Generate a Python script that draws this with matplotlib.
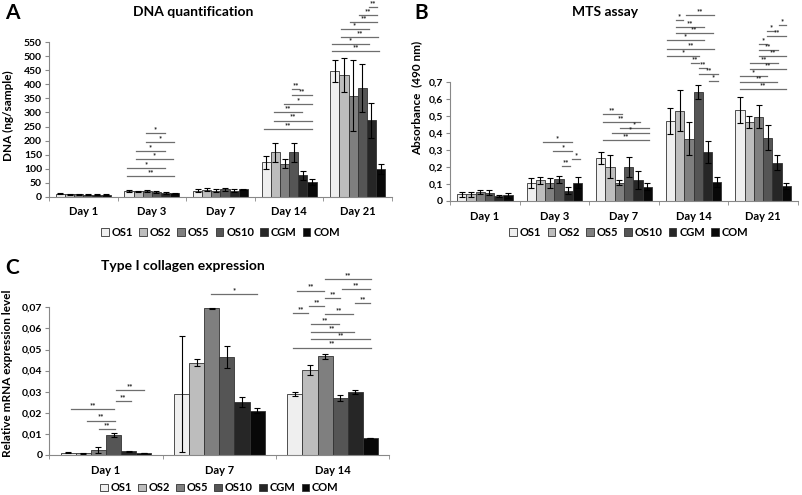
import matplotlib
matplotlib.use("Agg")
import matplotlib.pyplot as plt
from matplotlib.patches import Patch
from matplotlib.ticker import FuncFormatter

plt.rcParams['font.family'] = ['Lato', 'DejaVu Sans']
plt.rcParams['font.weight'] = 'bold'

groups = ['OS1', 'OS2', 'OS5', 'OS10', 'CGM', 'COM']
colors = ['#efefef', '#bdbdbd', '#7f7f7f', '#555555', '#262626', '#080808']

days_ab = ['Day 1', 'Day 3', 'Day 7', 'Day 14', 'Day 21']
days_c = ['Day 1', 'Day 7', 'Day 14']

# A - DNA (ng/sample), one row per day, one column per group
dna_mean = [[10, 9, 9, 7, 7, 7],
            [20, 19, 19, 17, 13, 12],
            [22, 25, 22, 27, 22, 26],
            [122, 158, 118, 158, 77, 52],
            [448, 433, 360, 388, 272, 99]]
dna_err = [[2, 2, 2, 1, 1, 1],
           [3, 3, 4, 3, 3, 2],
           [4, 5, 4, 5, 4, 3],
           [23, 34, 17, 34, 16, 12],
           [38, 60, 126, 85, 63, 17]]

# B - MTS absorbance (490 nm)
mts_mean = [[0.040, 0.040, 0.055, 0.048, 0.030, 0.033],
            [0.105, 0.122, 0.105, 0.128, 0.060, 0.108],
            [0.254, 0.201, 0.108, 0.200, 0.123, 0.084],
            [0.471, 0.530, 0.366, 0.641, 0.287, 0.113],
            [0.534, 0.465, 0.495, 0.372, 0.225, 0.088]]
mts_err = [[0.015, 0.015, 0.012, 0.015, 0.008, 0.015],
           [0.030, 0.020, 0.028, 0.020, 0.020, 0.030],
           [0.035, 0.068, 0.015, 0.060, 0.053, 0.020],
           [0.075, 0.120, 0.095, 0.040, 0.065, 0.030],
           [0.078, 0.035, 0.068, 0.075, 0.045, 0.018]]

# C - type I collagen relative mRNA expression
col_mean = [[0.0011, 0.0008, 0.0024, 0.0093, 0.0018, 0.0010],
            [0.0288, 0.0438, 0.0695, 0.0466, 0.0250, 0.0210],
            [0.0289, 0.0403, 0.0468, 0.0269, 0.0300, 0.0081]]
col_err = [[0.0002, 0.0002, 0.0015, 0.0010, 0.0002, 0.0001],
           [0.0276, 0.0015, 0.0003, 0.0052, 0.0023, 0.0011],
           [0.0008, 0.0022, 0.0013, 0.0013, 0.0009, 0.0001]]

# significance bars: (day index, from bar, to bar, height, label)
dna_sig = [(1, 1.9, 3.9, 226, '*'), (1, 1.9, 4.9, 196, '*'),
           (1, 0.8, 3.9, 163, '*'), (1, 0.8, 4.8, 133, '*'),
           (1, -0.2, 3.9, 103, '*'), (1, -0.2, 4.9, 74, '**'),
           (3, 2.85, 3.6, 383, '**'), (3, 2.85, 5.0, 362, '**'),
           (3, 1.9, 5.0, 330, '*'), (3, 0.8, 3.9, 301, '**'),
           (3, 0.8, 5.0, 271, '**'), (3, -0.2, 5.0, 240, '**'),
           (4, 3.7, 4.65, 674, '**'), (4, 2.65, 4.65, 648, '**'),
           (4, 1.65, 4.65, 622, '**'), (4, 0.65, 3.7, 597, '*'),
           (4, 0.65, 4.75, 570, '**'), (4, -0.35, 3.7, 543, '*'),
           (4, -0.35, 4.85, 519, '**')]
mts_sig = [(1, 1.3, 4.4, 0.344, '*'), (1, 2.4, 4.4, 0.295, '*'),
           (1, 4.4, 5.3, 0.248, '*'), (1, 3.3, 4.2, 0.205, '**'),
           (2, 0.2, 2.25, 0.510, '**'), (2, 0.2, 4.2, 0.465, '**'),
           (2, 2.1, 5.2, 0.426, '*'), (2, 1.2, 5.2, 0.397, '*'),
           (2, 0.2, 5.2, 0.358, '**'),
           (3, 1.7, 4.7, 1.093, '**'), (3, 0.55, 1.4, 1.062, '*'),
           (3, 0.55, 3.65, 1.022, '**'), (3, 0.55, 4.6, 0.984, '**'),
           (3, -0.35, 3.65, 0.944, '*'), (3, -0.35, 4.7, 0.893, '**'),
           (3, -0.35, 3.1, 0.852, '*'), (3, 2.2, 3.1, 0.808, '**'),
           (3, 3.1, 3.9, 0.778, '**'), (3, 3.1, 5.1, 0.745, '**'),
           (3, 4.2, 5.1, 0.704, '*'),
           (4, 4.15, 5.0, 1.032, '*'), (4, 2.95, 3.8, 0.999, '*'),
           (4, 2.95, 5.0, 0.968, '**'), (4, 2.05, 2.9, 0.919, '*'),
           (4, 2.05, 4.05, 0.886, '**'), (4, 2.05, 5.0, 0.850, '**'),
           (4, 1.1, 4.05, 0.811, '**'), (4, 1.1, 5.0, 0.772, '**'),
           (4, 0.0, 2.95, 0.735, '*'), (4, 0.0, 4.0, 0.696, '**'),
           (4, 0.0, 5.0, 0.657, '**')]
col_sig = [(0, 3.15, 5.0, 0.0308, '**'), (0, 3.15, 4.15, 0.0256, '**'),
           (0, 0.2, 3.05, 0.0219, '**'), (0, 1.25, 3.1, 0.0163, '**'),
           (0, 2.05, 3.1, 0.0122, '**'),
           (1, 1.95, 5.0, 0.0762, '*'),
           (2, 2.0, 5.05, 0.0833, '**'), (2, 3.1, 4.95, 0.0785, '**'),
           (2, 0.15, 1.95, 0.0779, '**'), (2, 2.0, 3.0, 0.0745, '**'),
           (2, 3.95, 5.0, 0.0719, '**'), (2, 0.95, 1.95, 0.0706, '**'),
           (2, -0.1, 0.9, 0.0674, '**'), (2, 2.0, 3.85, 0.0668, '**'),
           (2, 1.05, 2.9, 0.0621, '**'), (2, 1.05, 3.9, 0.0584, '**'),
           (2, 1.05, 5.0, 0.0548, '**'), (2, -0.15, 5.05, 0.0509, '**')]

W = 0.8 / 6
W_PX, H_PX = 803, 495


def comma(v, pos):
    s = ('%g' % round(v, 4))
    return s.replace('.', ',')


def panel(rect, days, means, errs, sigs, top, step):
    l, b, r, t = rect
    ax = fig.add_axes([l / W_PX, 1 - b / H_PX, (r - l) / W_PX, (b - t) / H_PX])
    for k in range(6):
        xs = [g + (k - 2.5) * W for g in range(len(days))]
        ax.bar(xs, [m[k] for m in means], W, color=colors[k],
               edgecolor='#333333', linewidth=0.6,
               yerr=[e[k] for e in errs], capsize=2,
               error_kw=dict(ecolor='black', elinewidth=0.8, capthick=0.8))
    for g, a, c, h, lab in sigs:
        x1 = g + (a - 2.5) * W
        x2 = g + (c - 2.5) * W
        ax.plot([x1, x2], [h, h], color='#6e6e6e', lw=0.9, clip_on=False)
        ax.text((x1 + x2) / 2, h, lab, ha='center', va='bottom',
                fontsize=5.5, color='#222222', clip_on=False)
    ax.set_xlim(-0.5, len(days) - 0.5)
    ax.set_ylim(0, top)
    n = int(round(top / step))
    ax.set_yticks([i * step for i in range(n + 1)])
    ax.yaxis.set_major_formatter(FuncFormatter(comma))
    ax.set_xticks(range(len(days)))
    ax.set_xticklabels(days)
    ax.set_xticks([i - 0.5 for i in range(len(days) + 1)], minor=True)
    ax.tick_params(axis='x', which='major', length=0, pad=7, labelsize=8)
    ax.tick_params(axis='x', which='minor', length=3, color='#888888')
    ax.tick_params(axis='y', length=3, color='#888888', labelsize=7.5, pad=2)
    for s in ['top', 'right']:
        ax.spines[s].set_visible(False)
    for s in ['left', 'bottom']:
        ax.spines[s].set_color('#888888')
        ax.spines[s].set_linewidth(0.8)
    return ax


def legend(ax, xc, yc):
    handles = [Patch(facecolor=c, edgecolor='#333333', linewidth=0.6, label=g)
               for c, g in zip(colors, groups)]
    ax.legend(handles=handles, loc='center', bbox_to_anchor=(xc, yc), ncol=6,
              frameon=False, fontsize=8, handlelength=0.7, handleheight=0.7,
              handletextpad=0.25, columnspacing=0.55, borderaxespad=0)


def ftext(x, y, s, **kw):
    fig.text(x / W_PX, 1 - y / H_PX, s, **kw)


fig = plt.figure(figsize=(8.03, 4.95), dpi=100)

axA = panel((49, 196.7, 392, 42.3), days_ab, dna_mean, dna_err, dna_sig, 550, 50)
axB = panel((450, 201, 798, 81.7), days_ab, mts_mean, mts_err, mts_sig, 0.7, 0.1)
axC = panel((49.3, 455, 389.3, 307.3), days_c, col_mean, col_err, col_sig, 0.07, 0.01)

legend(axA, 0.5, -0.229)
legend(axB, 0.514, -0.26)
legend(axC, 0.5, -0.223)

ftext(12, 13, 'A', fontsize=15, ha='center', va='center')
ftext(421, 13, 'B', fontsize=15, ha='center', va='center')
ftext(12, 268, 'C', fontsize=15, ha='center', va='center')

ftext(193, 12, 'DNA quantification', fontsize=10, ha='center', va='center')
ftext(605, 12, 'MTS assay', fontsize=10, ha='center', va='center')
ftext(183, 266, 'Type I collagen expression', fontsize=10, ha='center', va='center')

ftext(8, 116, 'DNA (ng/sample)', fontsize=8.5, rotation=90, ha='center', va='center')
ftext(417, 98, 'Absorbance  (490 nm)', fontsize=8.5, rotation=90, ha='center', va='center')
ftext(8, 373, 'Relative mRNA expression level', fontsize=8.5, rotation=90, ha='center', va='center')

fig.savefig('out.png', dpi=100)
